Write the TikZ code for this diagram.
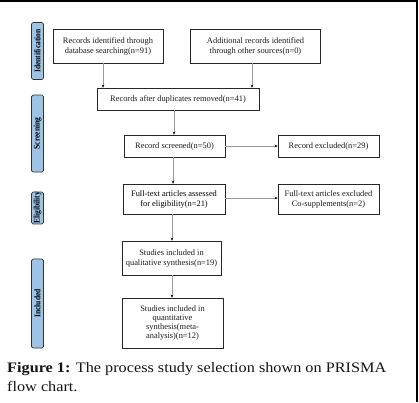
\documentclass[tikz,border=0pt]{standalone}
\usepackage{fontspec}
\setmainfont{Liberation Serif}
\newfontfamily\capfont[FakeStretch=1.12]{Liberation Serif}
\newfontfamily\sidefont[FakeStretch=0.88]{Liberation Serif}
\usetikzlibrary{arrows.meta}
\definecolor{sidefill}{HTML}{9DC3E6}
\definecolor{linegray}{HTML}{9A9A9A}
\tikzset{
  box/.style={draw=black!85, line width=0.6pt, align=center, inner sep=1pt,
    font=\fontsize{8.4}{10}\selectfont, text=black!90},
  side/.style={draw=black!80, fill=sidefill, rounded corners=1.5pt, line width=0.7pt,
    minimum width=12, inner sep=0pt, rotate=90, font=\sidefont\fontsize{8.6}{9}\selectfont\bfseries},
  conn/.style={draw=linegray, line width=0.6pt, -{Stealth[length=3pt,width=2.6pt,color=black]}},
}
\begin{document}
\begin{tikzpicture}[x=1pt,y=-1pt]
\useasboundingbox (0,0) rectangle (419,402);
% frame
\draw[line width=2pt] (0,1) -- (417,1) -- (417,402);
% side labels (rotated: minimum width = vertical length)
\node[side, minimum width=57, minimum height=12] (sid) at (37.5,51) {Identification};
\node[side, minimum width=77, minimum height=12] (ssc) at (37.5,133.5) {Screening};
\node[side, minimum width=31, minimum height=12] (sel) at (37.5,208) {Eligibility};
\node[side, minimum width=89, minimum height=12] (sin) at (37.5,303.5) {Included};
% boxes
\node[box, minimum width=110, minimum height=34] (b1) at (108,46) {Records identified through\\database searching(n=91)};
\node[box, minimum width=130, minimum height=34] (b2) at (255.5,46) {Additional records identified\\through other sources(n=0)};
\node[box, minimum width=162, minimum height=22] (b3) at (178,99) {Records after duplicates removed(n=41)};
\node[box, minimum width=101, minimum height=22] (b4) at (174.5,146) {Record screened(n=50)};
\node[box, minimum width=101, minimum height=22] (b5) at (328.5,146) {Record excluded(n=29)};
\node[box, minimum width=102, minimum height=30, text=black] (b6) at (174,199) {Full-text articles assessed\\for eligibility(n=21)};
\node[box, minimum width=101, minimum height=30] (b7) at (328.5,199) {Full-text articles excluded\\Co-supplements(n=2)};
\node[box, minimum width=99, minimum height=34] (b8) at (171.5,258) {Studies included in\\qualitative synthesis(n=19)};
\node[box, minimum width=101, minimum height=50, font=\fontsize{8.4}{9.3}\selectfont] (b9) at (172.5,323) {Studies included in\\quantitative\\synthesis(meta-\\analysis)(n=12)};
% connectors
\draw[conn] ([xshift=-5]b1.south) -- ([xshift=-5]b1.south |- b3.north);
\draw[conn] ([xshift=-3.5]b2.south) -- ([xshift=-3.5]b2.south |- b3.north);
\draw[conn] ([xshift=-4]b3.south) -- ([xshift=-4]b3.south |- b4.north);
\draw[conn] (b4.east) -- (b5.west);
\draw[conn] ([xshift=-1.5]b4.south) -- ([xshift=-1.5]b4.south |- b6.north);
\draw[conn] ([yshift=1]b6.east) -- ([yshift=1]b6.east -| b7.west);
\draw[conn] ([xshift=-2]b6.south) -- ([xshift=-2]b6.south |- b8.north);
\draw[conn] ([xshift=0.5]b8.south) -- ([xshift=0.5]b8.south |- b9.north);
% caption
\node[anchor=base west, inner sep=0pt, font=\capfont\fontsize{14.5}{19}\selectfont, text=black!92] (cap1) at (7,372) {\textbf{Figure 1:} The process study selection shown on PRISMA};
\node[anchor=base west, inner sep=0pt, font=\capfont\fontsize{14.5}{19}\selectfont, text=black!92] (cap2) at (7,391) {flow chart.};
\end{tikzpicture}
\end{document}
